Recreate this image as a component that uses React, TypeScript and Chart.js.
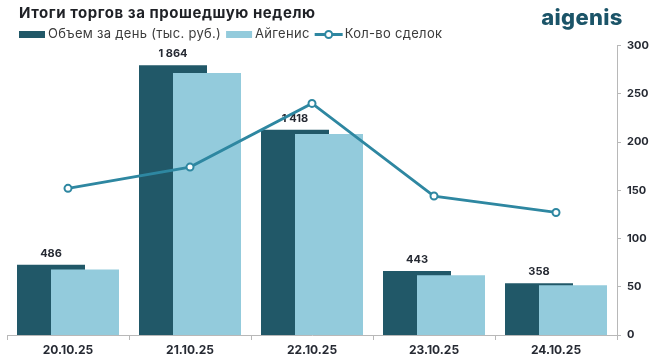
import React, { useEffect, useRef } from "react";
import { Chart, registerables } from "chart.js";

Chart.register(...registerables);

const categories = ["20.10.25", "21.10.25", "22.10.25", "23.10.25", "24.10.25"];
const volumeDay = [486, 1864, 1418, 443, 358];
const aigenisVolume = [453, 1810, 1388, 412, 343];
const dealsCount = [152, 174, 240, 144, 127];
const rightTicks = [0, 50, 100, 150, 200, 250, 300];
const seriesNames = ["Объем за день (тыс. руб.)", "Айгенис", "Кол-во сделок"];
const chartTitle = "Итоги торгов за прошедшую неделю";
const logoText = "aigenis";

const DARK = "#215868";
const LIGHT = "#93cbdc";
const LINE = "#2e87a1";
const AXIS = "#b8b8b8";
const TEXT = "#262a33";
const FONT = "Inter, 'DejaVu Sans', sans-serif";

const fmt = (n: number) => String(n).replace(/\B(?=(\d{3})+(?!\d))/g, " ");

export default function App() {
  const ref = useRef<HTMLCanvasElement | null>(null);
  useEffect(() => {
    document.body.style.margin = "0";
    const canvas = ref.current;
    if (!canvas) return;

    const orderPlugin = {
      id: "orderPlugin",
      beforeDatasetDraw(chart: any, args: any) {
        if (args.index === 1) return false;
        if (args.index === 2) {
          const ctx = chart.ctx;
          chart.getDatasetMeta(1).controller.draw();
          const meta0 = chart.getDatasetMeta(0);
          ctx.save();
          ctx.font = `bold 11px ${FONT}`;
          ctx.fillStyle = TEXT;
          ctx.textAlign = "center";
          ctx.textBaseline = "middle";
          meta0.data.forEach((el: any, i: number) => {
            ctx.fillText(fmt(volumeDay[i]), el.x, el.y - 11);
          });
          ctx.restore();
        }
        return true;
      },
    };

    const headerPlugin = {
      id: "headerPlugin",
      afterDraw(chart: any) {
        const ctx = chart.ctx;
        ctx.save();
        // title
        ctx.font = `bold 15px ${FONT}`;
        (ctx as any).letterSpacing = "0.55px";
        ctx.fillStyle = "#1f2126";
        ctx.textAlign = "left";
        ctx.textBaseline = "middle";
        ctx.fillText(chartTitle, 19, 13);
        // logo
        (ctx as any).letterSpacing = "0.3px";
        ctx.font = `800 22px ${FONT}`;
        ctx.fillStyle = "#1b5468";
        ctx.textAlign = "center";
        ctx.textBaseline = "alphabetic";
        ctx.fillText(logoText, 582, 25);
        // legend
        const ly = 34.5;
        (ctx as any).letterSpacing = "0.3px";
        ctx.font = `13px ${FONT}`;
        ctx.textAlign = "left";
        ctx.textBaseline = "middle";
        let x = 19;
        ctx.fillStyle = DARK;
        ctx.fillRect(x, ly - 3.5, 26, 7);
        x += 29;
        ctx.fillStyle = "#3b3b3b";
        ctx.fillText(seriesNames[0], x, ly);
        x += ctx.measureText(seriesNames[0]).width + 5;
        ctx.fillStyle = LIGHT;
        ctx.fillRect(x, ly - 3.5, 26, 7);
        x += 29;
        ctx.fillStyle = "#3b3b3b";
        ctx.fillText(seriesNames[1], x, ly);
        x += ctx.measureText(seriesNames[1]).width + 5;
        ctx.strokeStyle = LINE;
        ctx.lineWidth = 3;
        ctx.beginPath();
        ctx.moveTo(x, ly);
        ctx.lineTo(x + 28, ly);
        ctx.stroke();
        ctx.beginPath();
        ctx.arc(x + 14, ly, 3.5, 0, Math.PI * 2);
        ctx.fillStyle = "#fff";
        ctx.fill();
        ctx.lineWidth = 2;
        ctx.stroke();
        x += 30;
        ctx.fillStyle = "#3b3b3b";
        ctx.fillText(seriesNames[2], x, ly);
        (ctx as any).letterSpacing = "0px";
        ctx.restore();
      },
    };

    const chart = new Chart(canvas, {
      type: "bar",
      data: {
        labels: categories,
        datasets: [
          {
            type: "bar",
            label: seriesNames[0],
            data: volumeDay,
            backgroundColor: DARK,
            yAxisID: "y",
            order: 0,
            categoryPercentage: 68 / 122,
            barPercentage: 2,
          },
          {
            type: "bar",
            label: seriesNames[1],
            data: aigenisVolume,
            backgroundColor: LIGHT,
            yAxisID: "y",
            order: 0,
            categoryPercentage: 68 / 122,
            barPercentage: 2,
          },
          {
            type: "line",
            label: seriesNames[2],
            data: dealsCount,
            borderColor: LINE,
            borderWidth: 2.8,
            pointRadius: 3.5,
            pointBackgroundColor: "#ffffff",
            pointBorderColor: LINE,
            pointBorderWidth: 2,
            yAxisID: "y1",
            order: -1,
            tension: 0,
          },
        ],
      } as any,
      options: {
        responsive: false,
        animation: false,
        layout: { padding: { left: 7, right: 0, top: 45.5, bottom: 0 } },
        plugins: {
          legend: { display: false },
          title: { display: false },
          tooltip: { enabled: false },
        },
        scales: {
          x: {
            offset: true,
            grid: { offset: true, drawOnChartArea: false, drawTicks: true, tickLength: 5, color: AXIS },
            border: { color: AXIS },
            ticks: { font: { family: FONT, size: 12, weight: "bold" }, color: TEXT, padding: 3 },
            afterFit: (s: any) => {
              s.height = 27;
            },
          },
          y: { display: false, min: 0, max: 2000 },
          y1: {
            position: "right",
            min: 0,
            max: 300,
            afterBuildTicks: (s: any) => {
              s.ticks = rightTicks.map((v) => ({ value: v }));
            },
            grid: { drawOnChartArea: false, drawTicks: true, tickLength: 4, color: AXIS },
            border: { color: AXIS },
            ticks: { font: { family: FONT, size: 11, weight: "bold" }, color: TEXT, padding: 6 },
            afterFit: (s: any) => {
              s.width = 40;
            },
          },
        },
      } as any,
      plugins: [orderPlugin, headerPlugin],
    });
    return () => chart.destroy();
  }, []);

  return (
    <div style={{ width: 657, height: 362 }}>
      <canvas ref={ref} width={657} height={362} style={{ display: "block" }} />
    </div>
  );
}
